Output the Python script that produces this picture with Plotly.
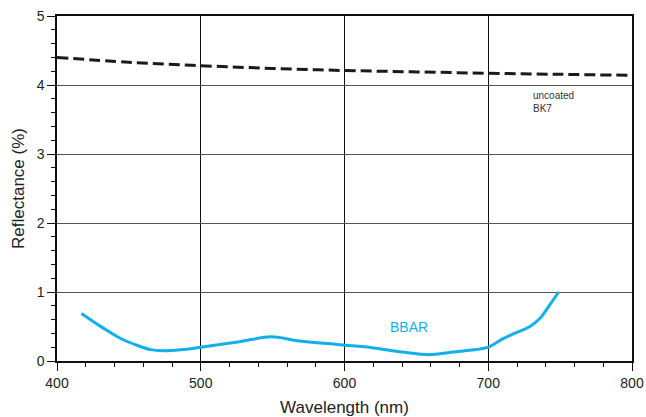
import plotly.graph_objects as go

# BBAR coating reflectance curve
bbar_wl = [417, 432, 444, 456, 465, 474, 486, 500, 527, 549, 567, 597, 620, 640, 659, 672, 687, 700, 710, 717, 729, 736, 743, 749]
bbar_r = [0.69, 0.48, 0.33, 0.225, 0.165, 0.148, 0.163, 0.20, 0.28, 0.35, 0.295, 0.235, 0.19, 0.13, 0.092, 0.12, 0.155, 0.20, 0.32, 0.39, 0.50, 0.62, 0.82, 1.0]

# Uncoated BK7 reflectance
bk7_wl = [400, 450, 500, 550, 600, 650, 700, 750, 800]
bk7_r = [4.40, 4.33, 4.28, 4.24, 4.21, 4.19, 4.17, 4.155, 4.14]

font_family = "Liberation Sans, Arial, sans-serif"
cyan = "#12b0ea"

fig = go.Figure()
fig.add_trace(go.Scatter(
    x=bk7_wl, y=bk7_r, mode="lines",
    line=dict(color="#1a1a1a", width=3, dash="11px,5px", shape="spline"),
    showlegend=False,
))
fig.add_trace(go.Scatter(
    x=bbar_wl, y=bbar_r, mode="lines",
    line=dict(color=cyan, width=3, shape="spline", smoothing=1.0),
    showlegend=False,
))

fig.add_annotation(x=730, y=3.76, text="uncoated<br>BK7", showarrow=False,
                   xanchor="left", yanchor="middle", align="left",
                   font=dict(size=10, color="#333", family=font_family))
fig.add_annotation(x=645, y=0.50, text="BBAR", showarrow=False,
                   xanchor="center", yanchor="middle",
                   font=dict(size=14, color=cyan, family=font_family))

fig.update_layout(
    width=646, height=417,
    margin=dict(l=57, r=14, t=16, b=56),
    paper_bgcolor="white", plot_bgcolor="white",
    font=dict(family=font_family, color="#222"),
    xaxis=dict(
        range=[400, 800], dtick=100, tick0=400, automargin=False,
        showgrid=True, gridcolor="#111", gridwidth=1,
        showline=True, linecolor="#111", linewidth=1.5, mirror=True,
        ticks="outside", ticklen=8, tickcolor="#111", tickwidth=1,
        minor=dict(dtick=20, ticks="outside", ticklen=4, tickcolor="#111", showgrid=False),
        tickfont=dict(size=14, color="#222"),
        title=dict(text="Wavelength (nm)", font=dict(size=17, color="#222"), standoff=13),
        zeroline=False,
    ),
    yaxis=dict(
        range=[0, 5], dtick=1, tick0=0, automargin=False,
        showgrid=True, gridcolor="#555", gridwidth=1,
        showline=True, linecolor="#111", linewidth=1.5, mirror=True,
        ticks="outside", ticklen=8, tickcolor="#111", tickwidth=1,
        minor=dict(dtick=0.2, ticks="outside", ticklen=4, tickcolor="#111", showgrid=False),
        tickfont=dict(size=14, color="#222"),
        title=dict(text="Reflectance (%)", font=dict(size=17, color="#222"), standoff=8),
        zeroline=False,
    ),
)

fig.write_html("out.html")
